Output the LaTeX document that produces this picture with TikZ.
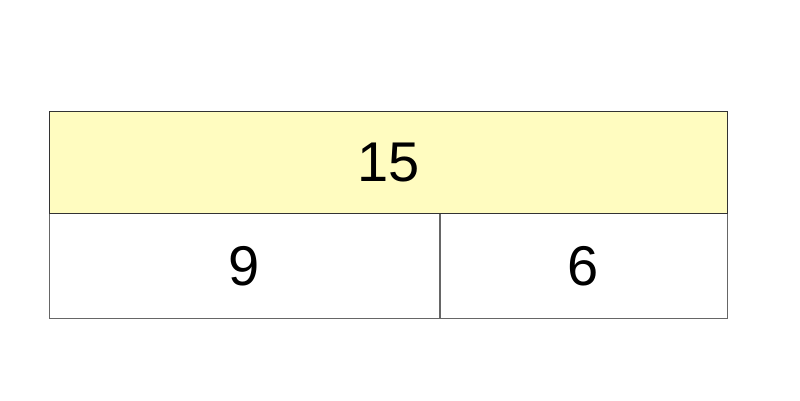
\documentclass[tikz,border=0pt]{standalone}
\usepackage{fontspec}
\setmainfont{Liberation Sans}
\definecolor{topfill}{HTML}{FFFCC0}
\definecolor{topline}{HTML}{333333}
\definecolor{botline}{HTML}{666666}
\begin{document}
\begin{tikzpicture}[x=1pt,y=-1pt,
  numtext/.style={font=\fontsize{56}{60}\selectfont, text=black}]
\useasboundingbox (0,0) rectangle (800,400);
\fill[white] (0,0) rectangle (800,400);
\node[draw=topline, fill=topfill, line width=0.8pt, minimum width=678pt, minimum height=102pt, inner sep=0pt, anchor=north west, numtext] (top) at (49,111) {15};
\node[draw=botline, line width=0.8pt, minimum width=390pt, minimum height=105pt, inner sep=0pt, anchor=north west, numtext] (left) at (49,213) {9};
\node[draw=botline, line width=0.8pt, minimum width=288pt, minimum height=105pt, inner sep=0pt, anchor=north west, numtext] (right) at (439,213) {6};
\draw[botline, line width=1.6pt] (left.north east) -- (left.south east);
\draw[topline, line width=0.8pt] (top.south west) -- (top.south east);
\end{tikzpicture}
\end{document}
